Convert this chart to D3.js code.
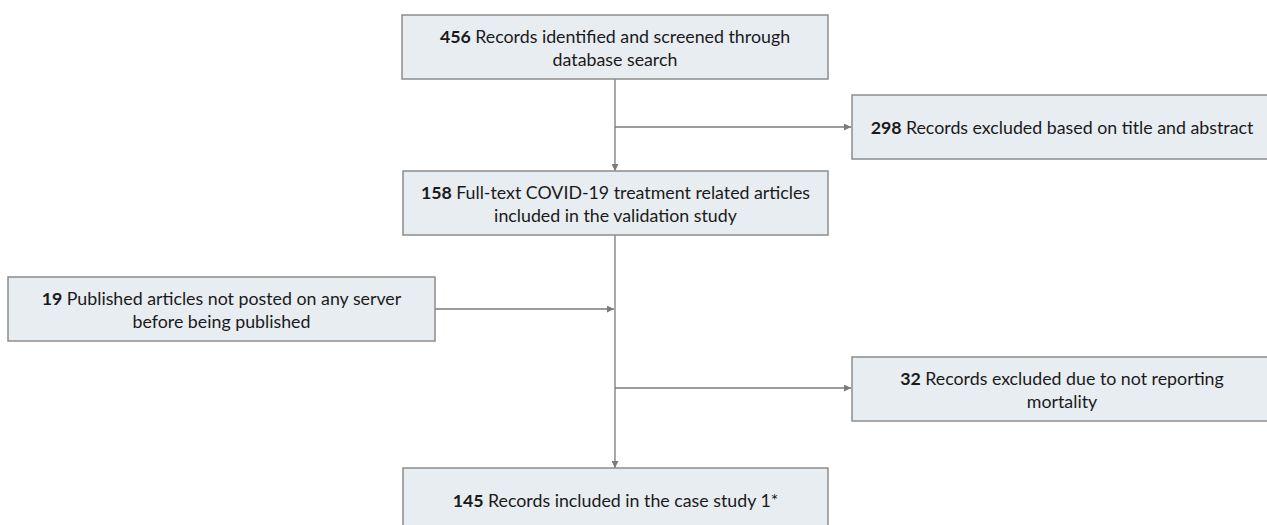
<!DOCTYPE html>
<html>
<head>
<meta charset="utf-8">
<script src="https://cdn.jsdelivr.net/npm/d3@7"></script>
<style>
  html, body { margin: 0; padding: 0; background: #fff; }
  svg { display: block; }
</style>
</head>
<body>
<div id="chart"></div>
<script>
// numbers shown in bold at the start of every box
const ids = ['search', 'excluded1', 'fulltext', 'published', 'excluded2', 'included'];
const counts = [456, 298, 158, 19, 32, 145];
const labels = [
  ['Records identified and screened through', 'database search'],
  ['Records excluded based on title and abstract'],
  ['Full-text COVID-19 treatment related articles', 'included in the validation study'],
  ['Published articles not posted on any server', 'before being published'],
  ['Records excluded due to not reporting', 'mortality'],
  ['Records included in the case study 1*']
];
// links: from -> to, "branch" ones hang off the main vertical line
const links = [
  { from: 'search', to: 'fulltext', kind: 'down' },
  { from: 'search', to: 'excluded1', kind: 'branch' },
  { from: 'fulltext', to: 'included', kind: 'down' },
  { from: 'published', to: 'spine', kind: 'join' },
  { from: 'fulltext', to: 'excluded2', kind: 'branch' }
];

const CONFIG = {
  width: 1267,
  height: 525,
  spineX: 615,
  boxH: 64,
  lineH: 23,
  fontSize: 17.8,
  fill: '#e8edf2',
  stroke: '#8c8c8c',
  line: '#7b7b7b',
  text: '#1a1a1a'
};

// box geometry (left, top, right)
const LAYOUT = {
  search:    { x0: 402, y0: 15,  x1: 828 },
  excluded1: { x0: 852, y0: 95,  x1: 1272 },
  fulltext:  { x0: 403, y0: 171, x1: 828 },
  published: { x0: 8,   y0: 277, x1: 435 },
  excluded2: { x0: 852, y0: 357, x1: 1272 },
  included:  { x0: 403, y0: 468, x1: 828 }
};
const BRANCH_Y = { excluded1: 127, published: 309, excluded2: 388 };

const nodes = ids.map((id, i) => ({ id, count: counts[i], lines: labels[i], ...LAYOUT[id] }));
const byId = Object.fromEntries(nodes.map(d => [d.id, d]));

const svg = d3.select('#chart').append('svg')
  .attr('width', CONFIG.width)
  .attr('height', CONFIG.height)
  .style('font-family', 'Lato, "Open Sans", sans-serif');

svg.append('defs').append('marker')
  .attr('id', 'arrow')
  .attr('viewBox', '0 0 10 10')
  .attr('refX', 10).attr('refY', 5)
  .attr('markerWidth', 7).attr('markerHeight', 7)
  .attr('markerUnits', 'userSpaceOnUse')
  .attr('orient', 'auto')
  .append('path')
  .attr('d', 'M0,0 L10,5 L0,10 Z')
  .attr('fill', CONFIG.line);

// connectors
const linkPaths = links.map(l => {
  const p = d3.path();
  const a = byId[l.from];
  if (l.kind === 'down') {
    const b = byId[l.to];
    p.moveTo(CONFIG.spineX, a.y0 + CONFIG.boxH);
    p.lineTo(CONFIG.spineX, b.y0);
  } else if (l.kind === 'branch') {
    const b = byId[l.to];
    const y = BRANCH_Y[l.to];
    p.moveTo(CONFIG.spineX, y);
    p.lineTo(b.x0 - 1, y);
  } else {
    const y = BRANCH_Y[l.from];
    p.moveTo(a.x1, y);
    p.lineTo(CONFIG.spineX - 1, y);
  }
  return p.toString();
});

svg.append('g').selectAll('path')
  .data(linkPaths)
  .join('path')
  .attr('d', d => d)
  .attr('fill', 'none')
  .attr('stroke', CONFIG.line)
  .attr('stroke-width', 1.3)
  .attr('marker-end', 'url(#arrow)');

// boxes
const box = svg.append('g').selectAll('g')
  .data(nodes)
  .join('g');

box.append('rect')
  .attr('x', d => d.x0)
  .attr('y', d => d.y0)
  .attr('width', d => d.x1 - d.x0)
  .attr('height', CONFIG.boxH)
  .attr('fill', CONFIG.fill)
  .attr('stroke', CONFIG.stroke)
  .attr('stroke-width', 1.5);

const txt = box.append('text')
  .attr('text-anchor', 'middle')
  .attr('font-size', CONFIG.fontSize)
  .attr('fill', CONFIG.text);

txt.each(function (d) {
  const t = d3.select(this);
  const cx = (d.x0 + d.x1) / 2;
  const n = d.lines.length;
  const firstY = d.y0 + CONFIG.boxH / 2 - (n - 1) * CONFIG.lineH / 2;
  d.lines.forEach((line, i) => {
    const row = t.append('tspan')
      .attr('x', cx)
      .attr('y', firstY + i * CONFIG.lineH)
      .attr('dominant-baseline', 'central');
    if (i === 0) {
      row.append('tspan').attr('font-weight', 'bold').text(d.count + ' ');
    }
    row.append('tspan').text(line);
  });
});
</script>
</body>
</html>
